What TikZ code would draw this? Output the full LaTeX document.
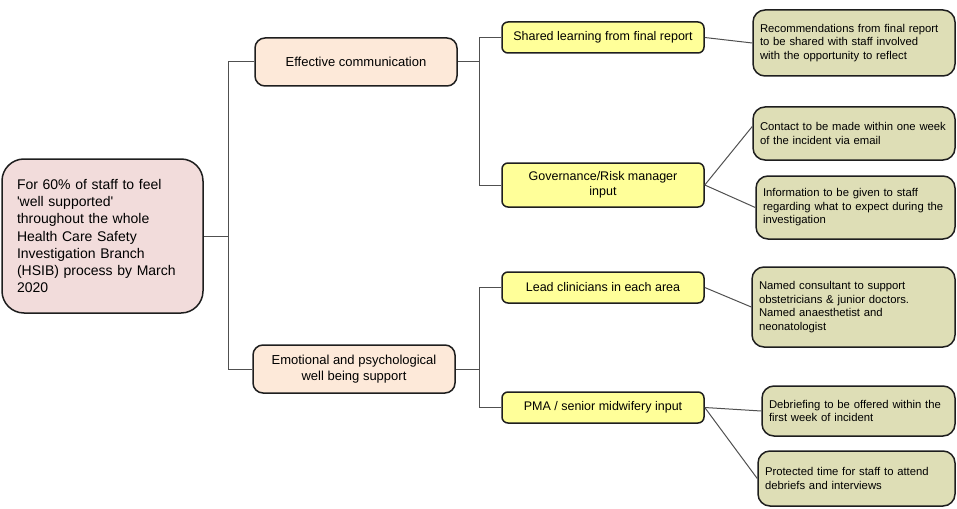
\documentclass[tikz,border=0pt]{standalone}
\usepackage{fontspec}
\setmainfont{Liberation Sans}
\definecolor{rootfill}{RGB}{242,220,219}
\definecolor{midfill}{RGB}{253,233,217}
\definecolor{yelfill}{RGB}{255,255,153}
\definecolor{olvfill}{RGB}{222,222,182}
\definecolor{edgecol}{RGB}{30,30,30}
\definecolor{conncol}{RGB}{80,80,80}
\begin{document}
\begin{tikzpicture}[x=1pt,y=-1pt,
 box/.style={draw=edgecol, line width=1.5pt, inner ysep=0pt},
 rootbox/.style={box, fill=rootfill, rounded corners=22pt, inner xsep=15pt, text width=171pt, minimum height=154pt, align=left, font=\fontsize{14}{17.2}\selectfont},
 midbox/.style={box, fill=midfill, rounded corners=10pt, minimum width=202pt, minimum height=48pt, align=center, font=\fontsize{13}{15.3}\selectfont},
 yelbox/.style={box, fill=yelfill, rounded corners=6pt, minimum width=202pt, align=center, font=\fontsize{12.5}{15}\selectfont},
 olvbox/.style={box, fill=olvfill, rounded corners=12pt, inner xsep=7pt, align=left, font=\fontsize{11.3}{13.5}\selectfont, text width=#1},
 connline/.style={draw=conncol, line width=1pt}]
\useasboundingbox (0,0) rectangle (957,508);

% root
\node[rootbox] (root) at (102.5,236) {For 60\% of staff to feel\\ \textquotesingle well supported\textquotesingle\\ throughout the whole\\ Health Care Safety\\ Investigation Branch\\ (HSIB) process by March\\ 2020};

% second level
\node[midbox] (eff) at (356,62) {Effective communication};
\node[midbox] (emo) at (354,369) {Emotional and psychological\\ well being support};

% third level
\node[yelbox, minimum height=31pt] (shared) at (603,37.5) {Shared learning from final report};
\node[yelbox, minimum height=44pt] (gov) at (603,185) {Governance/Risk manager\\ input};
\node[yelbox, minimum height=31pt] (lead) at (603,287.5) {Lead clinicians in each area};
\node[yelbox, minimum height=31pt] (pma) at (603,407.5) {PMA / senior midwifery input};

% fourth level
\node[olvbox=188pt, minimum height=66pt] (rec) at (854,43) {Recommendations from final report\\ to be shared with staff involved\\ with the opportunity to reflect};
\node[olvbox=188pt, minimum height=53pt] (contact) at (854,133.5) {Contact to be made within one week\\ of the incident via email};
\node[olvbox=185pt, minimum height=63pt] (info) at (855.5,207.5) {Information to be given to staff\\ regarding what to expect during the\\ investigation};
\node[olvbox=189pt, minimum height=80pt] (named) at (853.5,307) {Named consultant to support\\ obstetricians \& junior doctors.\\ Named anaesthetist and\\ neonatologist};
\node[olvbox=179pt, minimum height=50pt] (debrief) at (858.5,411) {Debriefing to be offered within the\\ first week of incident};
\node[olvbox=183pt, minimum height=55pt] (protect) at (856.5,478.5) {Protected time for staff to attend\\ debriefs and interviews};

% junctions
\coordinate (j1) at (228,236);
\coordinate (j2) at (479,62);
\coordinate (j3) at (479,369);

% connectors
\draw[connline] (root.east) -- (j1);
\draw[connline] (eff.west) -| (j1);
\draw[connline] (emo.west) -| (j1);
\draw[connline] (eff.east) -- (j2);
\draw[connline] (shared.west) -| (j2);
\draw[connline] (gov.west) -| (j2);
\draw[connline] (emo.east) -- (j3);
\draw[connline] (lead.west) -| (j3);
\draw[connline] (pma.west) -| (j3);
\draw[connline] (shared.east) -- (rec.west);
\draw[connline] (gov.east) -- ([yshift=7pt]contact.west);
\draw[connline] (gov.east) -- (info.west);
\draw[connline] (lead.east) -- (named.west);
\draw[connline] (pma.east) -- (debrief.west);
\draw[connline] (pma.east) -- (protect.west);
\end{tikzpicture}
\end{document}
